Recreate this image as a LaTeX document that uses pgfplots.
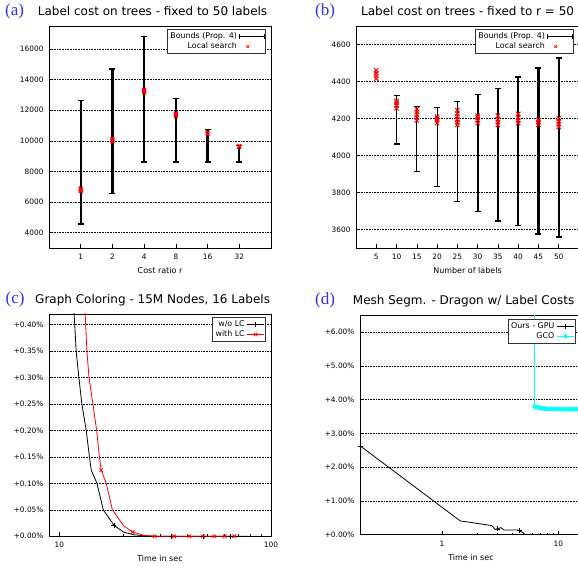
\documentclass[border=0pt]{standalone}
\usepackage{fontspec}
\setmainfont{DejaVu Sans}
\newfontfamily\seriffont{Liberation Serif}
\usepackage{pgfplots}
\pgfplotsset{compat=1.18}
\definecolor{lblue}{RGB}{50,50,220}
\definecolor{gcocyan}{RGB}{0,255,255}
\pgfplotsset{
 base/.style={
  scale only axis, anchor=south west,
  tick align=inside, xtick pos=bottom, ytick pos=left,
  axis line style={line width=0.9pt},
  major tick length=4pt, minor tick length=2pt,
  every tick/.style={black, line width=0.6pt},
  ymajorgrids, grid style={black, line width=0.5pt, dash pattern=on 0.8pt off 0.8pt},
  tick label style={font=\fontsize{7.4}{8}\selectfont},
  scaled ticks=false,
  /pgf/number format/assume math mode=true,
  /pgf/number format/1000 sep={},
  yticklabel style={xshift=-2pt},
  xticklabel style={yshift=-2.5pt},
  xlabel style={font=\fontsize{8}{9}\selectfont, at={(axis description cs:0.5,0)}, anchor=center, yshift=-22.7pt},
  legend style={at={(axis description cs:1,1)}, anchor=north east, xshift=-5pt, yshift=-3pt, draw=black!80, line width=0.8pt, font=\fontsize{7.9}{8.5}\selectfont, inner sep=1pt, row sep=-1pt},
  legend cell align=right,
  legend plot pos=right,
 },
 boundsleg/.style={legend image code/.code={\draw[black, line width=0.7pt] (0pt,0pt)--(25pt,0pt); \draw[black,line width=0.7pt] (0pt,-2.5pt)--(0pt,2.5pt) (25pt,-2.5pt)--(25pt,2.5pt);}},
}
\begin{document}
\begin{tikzpicture}
\useasboundingbox (0,0) rectangle (578pt,570pt);
% titles
\node[anchor=base west, inner sep=0, font=\seriffont\fontsize{17}{17}\selectfont, text=lblue] at (5pt,554pt) {(a)};
\node[anchor=base west, inner sep=0, font=\fontsize{12}{12}\selectfont] at (37.7pt,554pt) {Label cost on trees - fixed to 50 labels};
\node[anchor=base west, inner sep=0, font=\seriffont\fontsize{17}{17}\selectfont, text=lblue] at (315pt,554pt) {(b)};
\node[anchor=base west, inner sep=0, font=\fontsize{12}{12}\selectfont] at (361pt,554pt) {Label cost on trees - fixed to r = 50};
\node[anchor=base west, inner sep=0, font=\seriffont\fontsize{17}{17}\selectfont, text=lblue] at (5.5pt,266.7pt) {(c)};
\node[anchor=base west, inner sep=0, font=\fontsize{12}{12}\selectfont] at (35pt,266.7pt) {Graph Coloring - 15M Nodes, 16 Labels};
\node[anchor=base west, inner sep=0, font=\seriffont\fontsize{17}{17}\selectfont, text=lblue] at (315pt,265pt) {(d)};
\node[anchor=base west, inner sep=0, font=\fontsize{12}{12}\selectfont] at (352.7pt,265pt) {Mesh Segm. - Dragon w/ Label Costs};

% (a)
\begin{axis}[base, at={(49pt,322pt)}, width=222pt, height=222pt,
  xmin=-1, xmax=6, ymin=3000, ymax=17500,
  xtick={0,1,2,3,4,5}, xticklabels={1,2,4,8,16,32},
  ytick={4000,6000,8000,10000,12000,14000,16000},
  xlabel={Cost ratio r}, unbounded coords=jump]
\addplot[black, line width=2.2pt, mark=-, mark size=3pt, mark options={line width=1.4pt}, forget plot] coordinates {
(0,4580) (0,12620) (0.5,nan) (1,6540) (1,14700) (1.5,nan) (2,8610) (2,16800) (2.5,nan)
(3,8610) (3,12750) (3.5,nan) (4,8610) (4,10730) (4.5,nan) (5,8610) (5,9700)};
\addplot[red, only marks, mark=x, mark size=2.5pt, line width=1pt, forget plot] coordinates {
(0,6700) (0,6750) (0,6800) (0,6850) (0,6900)
(1,9950) (1,10000) (1,10050) (1,10100) (1,10150)
(2,13150) (2,13200) (2,13250) (2,13300) (2,13350)
(3,11600) (3,11650) (3,11700) (3,11750) (3,11800)
(4,10450) (4,10500) (4,10550)
(5,9600) (5,9640) (5,9680)};
\addlegendimage{boundsleg}
\addlegendentry{Bounds (Prop. 4)}
\addlegendimage{only marks, mark=x, red, mark size=2pt, line width=0.8pt}
\addlegendentry{Local search}
\end{axis}

% (b)
\begin{axis}[base, at={(356pt,322pt)}, width=223pt, height=222pt,
  xmin=0, xmax=55, ymin=3500, ymax=4700,
  xtick={5,10,...,50},
  ytick={3600,3800,4000,4200,4400,4600},
  xlabel={Number of labels}, unbounded coords=jump]
\addplot[black, line width=1.0pt, mark=-, mark size=3pt, mark options={line width=1.1pt}, forget plot] coordinates {
(10,4062) (10,4322) (12,nan) (15,3914) (15,4267) (17,nan) (20,3833) (20,4261)};
\addplot[black, line width=1.5pt, mark=-, mark size=3pt, mark options={line width=1.2pt}, forget plot] coordinates {
(25,3752) (25,4290)};
\addplot[black, line width=2.1pt, mark=-, mark size=3pt, mark options={line width=1.4pt}, forget plot] coordinates {
(30,3698) (30,4331) (32,nan) (35,3645) (35,4363) (37,nan)
(40,3620) (40,4424) (42,nan) (45,3575) (45,4473) (47,nan) (50,3559) (50,4526)};
\addplot[red, only marks, mark=x, mark size=3pt, line width=1pt, forget plot] coordinates {
(5,4415) (5,4430) (5,4445) (5,4460)
(10,4255) (10,4270) (10,4285) (10,4295)
(15,4190) (15,4205) (15,4220) (15,4235) (15,4250)
(20,4175) (20,4190) (20,4200) (20,4210)
(25,4165) (25,4180) (25,4195) (25,4210) (25,4225) (25,4245)
(30,4175) (30,4190) (30,4205) (30,4215)
(35,4165) (35,4180) (35,4195) (35,4215)
(40,4175) (40,4190) (40,4205) (40,4225)
(45,4165) (45,4180) (45,4192)
(50,4155) (50,4170) (50,4185) (50,4200)};
\addlegendimage{boundsleg}
\addlegendentry{Bounds (Prop. 4)}
\addlegendimage{only marks, mark=x, red, mark size=2pt, line width=0.8pt}
\addlegendentry{Local search}
\end{axis}

% (c)
\begin{axis}[base, at={(49pt,33.7pt)}, width=222pt, height=222.3pt,
  xmode=log, xmin=8.93, xmax=100, ymin=0, ymax=0.42,
  xtick={10,100}, xticklabels={10,100},
  ytick={0,0.05,0.10,0.15,0.20,0.25,0.30,0.35,0.40},
  yticklabels={+0.00\%,+0.05\%,+0.10\%,+0.15\%,+0.20\%,+0.25\%,+0.30\%,+0.35\%,+0.40\%},
  xlabel={Time in sec}]
\addplot[black, line width=0.8pt, forget plot] coordinates {
(11.5,0.46) (11.74,0.42) (12.0,0.35) (12.36,0.30) (12.77,0.25) (13.39,0.20) (13.87,0.15) (14.14,0.125)
(15.05,0.10) (16.12,0.05) (18.1,0.021) (20.1,0.008) (22.4,0.003) (25,0.001) (30,0) (78,0)};
\addplot[black, only marks, mark=+, mark size=2.5pt, line width=0.8pt, forget plot] coordinates {
(18.1,0.021) (33.8,0) (47.7,0) (64.6,0)};
\addplot[red, line width=0.8pt, forget plot] coordinates {
(13.0,0.45) (13.24,0.42) (13.49,0.35) (13.80,0.30) (14.4,0.25) (15.0,0.20) (15.45,0.15) (15.77,0.125)
(16.65,0.10) (17.8,0.05) (20.1,0.02) (22.2,0.008) (25,0.002) (28.2,0.0) (67,0.0)};
\addplot[red, only marks, mark=x, mark size=2.5pt, line width=0.8pt, forget plot] coordinates {
(15.77,0.125) (22.2,0.008) (28.2,0) (34.8,0) (41.1,0) (47.7,0) (54,0) (60.5,0) (67,0)};
\addlegendimage{black, line width=0.8pt, mark=+, mark size=2.5pt}
\addlegendentry{w/o LC}
\addlegendimage{red, line width=0.8pt, mark=x, mark size=2.5pt}
\addlegendentry{with LC}
\end{axis}

% (d)
\begin{axis}[base, at={(360pt,35.3pt)}, width=222pt, height=219.4pt,
  xmode=log, xmin=0.197, xmax=16, ymin=0, ymax=6.5,
  xtick={1,10}, xticklabels={1,10},
  ytick={0,1,2,3,4,5,6},
  yticklabels={+0.00\%,+1.00\%,+2.00\%,+3.00\%,+4.00\%,+5.00\%,+6.00\%},
  xlabel={Time in sec},
  legend style={xshift=-1pt, yshift=-0.7pt}]
\addplot[black, line width=0.8pt, forget plot] coordinates {
(0.2,2.62) (1.43,0.41) (2.68,0.27) (2.85,0.16) (3.01,0.17) (3.21,0.21) (3.41,0.14) (4.48,0.14)
(4.62,0.12) (4.93,0.07) (5.2,0.0)};
\addplot[black, only marks, mark=+, mark size=2.5pt, line width=0.8pt, forget plot] coordinates {
(0.2,2.62) (3.01,0.17) (4.62,0.12)};
\addplot[gcocyan, line width=1.2pt, forget plot] coordinates {(6.22,7) (6.22,3.80)};
\addplot[gcocyan, line width=1.2pt, mark=*, mark size=1.6pt, forget plot] coordinates {
(6.22,3.80) (6.4,3.785) (6.6,3.775) (6.8,3.765) (7.0,3.755) (7.2,3.75) (7.4,3.745) (7.6,3.74) (7.8,3.735)
(8.0,3.73) (8.3,3.727) (8.6,3.725) (8.9,3.723) (9.2,3.722) (9.5,3.72) (9.8,3.72) (10.2,3.72) (10.6,3.72)
(11.0,3.72) (11.4,3.72) (11.8,3.72) (12.2,3.72) (12.6,3.72) (13.0,3.72) (13.5,3.72) (14.0,3.72)
(14.5,3.72) (15.0,3.72) (15.5,3.72) (16.0,3.72)};
\addlegendimage{black, line width=0.8pt, mark=+, mark size=2.5pt}
\addlegendentry{Ours - GPU}
\addlegendimage{gcocyan, line width=1.2pt, mark=*, mark size=1.6pt}
\addlegendentry{GCO}
\end{axis}
\end{tikzpicture}
\end{document}
